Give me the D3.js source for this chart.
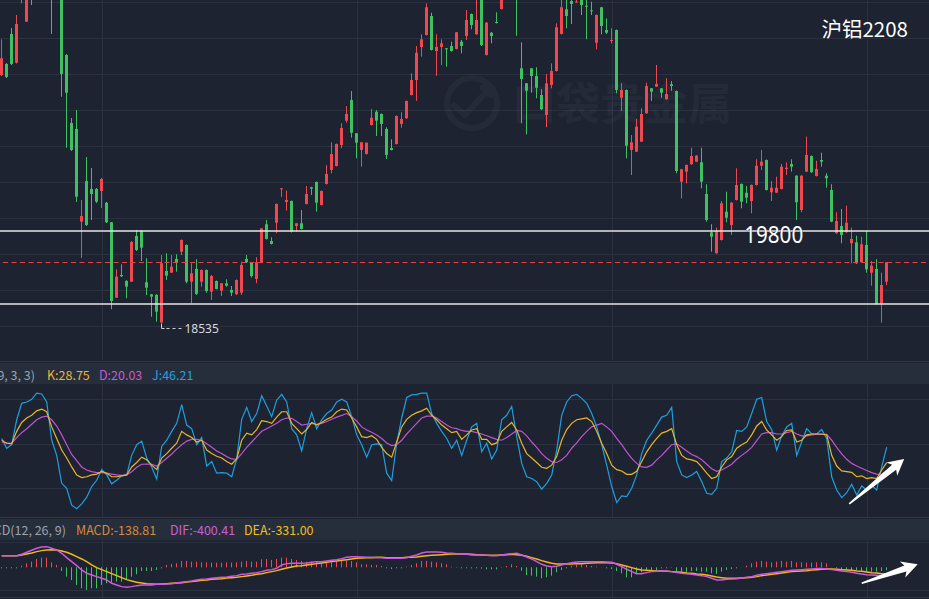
<!DOCTYPE html>
<html>
<head>
<meta charset="utf-8">
<title>沪铝2208</title>
<script src="https://cdnjs.cloudflare.com/ajax/libs/d3/7.8.5/d3.min.js"></script>
<style>
  html, body { margin: 0; padding: 0; background: #1d2330; }
  svg { display: block; }
</style>
</head>
<body>
<div id="chart"></div>
<script>
"use strict";

// ---- candles (daily OHLC, 沪铝2208) ----
var opens = [
  21922, 22072, 22480, 22089, 23010, 22647, 23350, 23146, 23486, 23282,
  23554, 23214, 23350, 22194, 21269, 21188, 19927, 20480, 20372, 20372,
  20344, 20185, 19919, 18893, 19202, 19120, 19111, 19732, 19800, 19103,
  18939, 18930, 18555, 19256, 19233, 19420, 19519, 19610, 19111, 19284,
  19111, 19270, 18975, 19120, 18989, 19089, 18998, 18939, 18961, 19420,
  19375, 19148, 19375, 19892, 19664, 19913, 20368, 20195, 20208, 19868,
  19905, 20168, 20395, 20467, 20154, 20440, 20630, 20684, 20970, 21300,
  21582, 21129, 20902, 20848, 21242, 21423, 21392, 21188, 20929, 20984,
  21256, 21333, 21650, 21854, 22303, 22466, 22724, 22248, 22303, 22285,
  22316, 22276, 22375, 22452, 22752, 22476, 23078, 22194, 22497, 22643,
  22820, 23078, 23350, 23214, 22013, 21809, 22013, 21908, 21650, 21378,
  21786, 21976, 22480, 22816, 22928, 22915, 23010, 22864, 22802, 22361,
  22843, 22534, 22389, 22534, 21613, 21718, 20902, 20879, 21015, 21401,
  21741, 21763, 21741, 21592, 21796, 21704, 20471, 20607, 20708, 20743,
  20735, 20304, 19783, 19497, 19678, 20063, 19882, 20222, 20440, 20321,
  20208, 20426, 20688, 20766, 20327, 20321, 20372, 20644, 20712, 20552,
  20086, 20607, 20820, 20548, 20766, 20552, 20358, 19769, 19868, 19783,
  19633, 19647, 19375, 19610, 19233, 19284, 18808, 19111
];
var highs = [
  22407, 22085, 22561, 22738, 23282, 23350, 23486, 23622, 23595, 23649,
  23622, 23486, 23418, 22208, 21337, 21446, 20222, 20807, 20657, 20385,
  20521, 20195, 19923, 19279, 19347, 19134, 19664, 19814, 19814, 19429,
  18944, 18944, 19474, 19497, 19474, 19484, 19685, 19617, 19361, 19416,
  19277, 19277, 19202, 19127, 19093, 19143, 19052, 19141, 19383, 19474,
  19379, 19443, 19841, 19950, 19715, 20174, 20385, 20349, 20215, 19909,
  20086, 20412, 20402, 20474, 20351, 20698, 21007, 20990, 21265, 21500,
  21704, 21133, 21011, 21004, 21460, 21446, 21398, 21211, 21047, 21371,
  21415, 21575, 21945, 22316, 22476, 22897, 22769, 22476, 22407, 22289,
  22375, 22507, 22398, 22806, 22758, 23010, 23146, 22643, 22507, 22775,
  23146, 23486, 23554, 23282, 22367, 21813, 22017, 22027, 21728, 21936,
  22081, 22625, 23010, 23010, 23010, 22983, 23078, 23010, 22919, 22745,
  22847, 22693, 22557, 22541, 21809, 21725, 21106, 21324, 21469, 21817,
  21745, 22058, 21745, 21877, 21840, 21711, 20644, 20705, 20933, 20831,
  20933, 20436, 19892, 19845, 20208, 20335, 20192, 20653, 20446, 20412,
  20433, 20776, 20902, 20773, 20480, 20539, 20712, 20735, 20776, 20559,
  20559, 21083, 20827, 20756, 20865, 20585, 20436, 20055, 20100, 20144,
  19845, 19736, 19723, 19800, 19392, 19416, 19233, 19379
];
var lows = [
  21908, 21881, 22058, 22078, 22897, 22643, 22874, 23010, 23214, 23214,
  22480, 23105, 21627, 20933, 20888, 20195, 19433, 19868, 19950, 20181,
  20113, 19909, 18736, 18889, 19175, 18885, 19107, 19528, 19392, 18930,
  18635, 18567, 18535, 19134, 19229, 19247, 19474, 19089, 18817, 18930,
  19043, 18961, 18862, 19005, 18916, 19043, 18916, 18933, 18930, 19365,
  19165, 19089, 19365, 19685, 19617, 19769, 20263, 20077, 19780, 19791,
  19821, 20161, 20290, 20063, 20147, 20433, 20585, 20678, 20925, 21273,
  21069, 20789, 20675, 20841, 21235, 21092, 21092, 20780, 20895, 20977,
  21205, 21326, 21643, 21572, 22171, 22459, 22255, 21912, 22058, 22035,
  22242, 22269, 22217, 22398, 22544, 22469, 22316, 22187, 22353, 22622,
  22813, 23010, 23078, 22456, 21265, 21116, 21681, 21605, 21446, 21211,
  21741, 21970, 22473, 22557, 22616, 22905, 22738, 22407, 22738, 22271,
  22476, 22480, 22353, 21673, 21432, 20789, 20562, 20875, 21011, 21394,
  21568, 21759, 21613, 21585, 21708, 20585, 20245, 20449, 20701, 20739,
  20381, 19927, 19519, 19490, 19671, 19919, 19746, 20215, 20109, 20177,
  20041, 20419, 20630, 20351, 20208, 20317, 20365, 20562, 20607, 19950,
  20055, 20603, 20592, 20541, 20675, 20389, 19920, 19762, 19633, 19776,
  19361, 19354, 19368, 19233, 19056, 18801, 18553, 19066
];
var closes = [
  22149, 21895, 22072, 22616, 23146, 23214, 23078, 23486, 23282, 23554,
  23078, 23418, 21936, 21681, 20902, 20267, 20004, 19882, 20304, 20199,
  20508, 19919, 18848, 19179, 19184, 19043, 19651, 19542, 19573, 19029,
  18907, 18703, 19361, 19192, 19315, 19375, 19678, 19111, 19225, 18944,
  19270, 18984, 19188, 19012, 19089, 19056, 18961, 19134, 19338, 19375,
  19188, 19375, 19837, 19692, 19624, 20168, 20381, 20222, 19791, 19905,
  19828, 20304, 20376, 20185, 20344, 20576, 20848, 20984, 21201, 21392,
  21137, 21001, 21007, 21001, 21341, 21300, 21256, 20834, 20902, 21364,
  21324, 21568, 21854, 22225, 22407, 22843, 22262, 22303, 22353, 22280,
  22248, 22503, 22316, 22670, 22602, 22670, 22330, 22633, 22452, 22629,
  23078, 23350, 23146, 23010, 21868, 21708, 21908, 21749, 21455, 21809,
  21976, 22571, 22843, 22724, 22888, 22922, 22874, 22856, 22792, 22738,
  22588, 22497, 22398, 21718, 21718, 20960, 21007, 21219, 21392, 21772,
  21695, 21800, 21681, 21664, 21772, 20616, 20640, 20698, 20820, 20825,
  20471, 19950, 19723, 19800, 20177, 19981, 20185, 20426, 20199, 20253,
  20426, 20688, 20743, 20358, 20389, 20389, 20675, 20661, 20675, 20191,
  20552, 20834, 20599, 20644, 20743, 20517, 19927, 19936, 19746, 19913,
  19692, 19361, 19620, 19279, 19328, 18808, 19066, 19375
];

// ---- KDJ(9, 3, 3) ----
var kVals = [
  54, 50.6, 50, 64, 74, 79, 82, 87, 89, 86,
  69, 56, 43, 34, 24, 15, 12, 13, 15, 16,
  19, 17, 13, 13, 14, 15, 24, 29, 35, 32,
  26, 21, 34, 39, 45, 50.6, 64, 60, 57, 52,
  54, 43, 39, 36, 34, 30, 27, 33, 54, 62,
  60, 66, 76, 75, 73, 80, 86, 86, 73, 67,
  61, 66, 74, 71, 74, 77.5, 80, 86, 89, 88,
  79, 69, 58, 57, 59, 55, 46, 39, 35, 52,
  69, 77.5, 82, 85, 87, 90, 82, 77, 71, 67,
  62.5, 64, 55, 60, 65.5, 67, 55, 55, 49, 51,
  64, 69, 74, 65.5, 50.6, 39, 34, 29, 23.6, 22.5,
  26, 35.6, 54, 66, 73, 77, 78, 79, 75, 64,
  50.6, 39, 26, 21, 19.5, 15.7, 15.7, 19, 30, 41,
  49, 56, 62, 64, 67, 49, 37, 33, 32, 30,
  24, 17, 11, 13, 24, 32, 35.6, 45, 49, 52,
  60, 70, 75, 65.5, 60, 54, 58, 65, 65.5, 52,
  54, 60, 61, 61, 61, 60, 37, 25, 19.5, 18.7,
  18, 13, 14, 11, 12, 11, 20.6, 28.75
];
var dVals = [
  52, 51, 50.6, 57, 62.5, 67, 72, 77, 80, 81,
  77, 70, 60, 49, 38, 31, 24, 20.6, 18.7, 17.6,
  17.6, 17, 16, 15, 14.6, 15, 18.7, 23.6, 27, 27.3,
  27, 25, 29, 33.7, 38.6, 44, 49, 53, 55, 55,
  54, 50, 46, 42, 39, 35.6, 33, 32.6, 39, 46,
  52, 58, 64, 67, 70, 73, 77, 79, 78.6, 75,
  71, 72, 73, 72, 73, 75, 77.5, 80, 82, 84,
  80.5, 75.6, 69, 65.5, 63, 60, 56, 51, 48, 49,
  54, 61, 67, 73, 79, 81, 81, 79, 75, 71,
  68, 67, 65, 64, 64, 62.5, 61, 59, 57, 55,
  54, 57, 61, 65, 64, 59, 52, 46, 39, 33.7,
  30, 29, 32, 37, 45, 51, 58, 64, 69, 71,
  73, 69, 64, 56, 49, 41, 33.7, 28, 24, 23.6,
  26, 32, 37, 43, 49, 50, 46, 42, 38, 35.6,
  32, 27, 22, 19, 20.6, 23.6, 27, 32.6, 37, 41,
  46, 53.5, 61, 62.5, 62.5, 61, 61, 62.5, 64, 61,
  59, 59, 60, 60.7, 60.7, 60.7, 54, 46, 38.6, 32.6,
  28, 25, 22.5, 20, 17.6, 16, 15.7, 20.03
];
var jVals = [
  56, 45, 49, 77, 95.5, 97, 100, 107, 106, 97,
  54, 37, 5.6, 0, -19, -23, -17.6, -10, 2, 9,
  21, 15, 5, 9, 14, 15, 37, 49, 53, 34,
  24, 10.5, 47, 54, 64, 73, 94, 71, 67, 49,
  57, 25, 30, 17, 17.6, 17, 13, 33, 77.5, 91,
  75, 84, 104, 92.5, 80.5, 99, 105.6, 97, 67, 60,
  42, 67, 85, 67, 77, 84, 88, 97, 100, 97,
  80.5, 60, 49, 35, 49, 50, 49, 17, 8.6, 50.6,
  79, 102, 105, 105.6, 107, 107, 84, 73, 64, 56,
  45, 54, 37, 54, 69, 73, 41, 50.6, 33, 43,
  77, 82, 92, 58, 28, 13, 11, 7.5, -1, 5.6,
  15, 43, 82, 97, 104, 105.6, 101, 95.5, 84, 69,
  49, 26, 2, -16, -8.6, -9.4, 0, 15, 39, 54,
  62, 71, 80, 82, 91, 30, 15, 12, 15, 19,
  7.5, -5.6, -6.7, 0, 30, 34, 41, 65, 64, 69,
  84, 100, 102, 75, 66, 43, 59, 69, 73, 37,
  52, 67, 61, 61, 66, 56, 13, -2, -10.5, -5,
  4.5, -7.5, 2.6, -2, 3.7, -2, 24, 46.21
];

// ---- MACD(12, 26, 9) ----
var difVals = [
  555, 555, 555, 555, 619, 714, 809, 905, 968, 984,
  905, 825, 667, 460, 270, 79, -127, -286, -365, -444,
  -524, -603, -762, -841, -920, -952, -920, -873, -841, -841,
  -841, -809, -809, -794, -778, -746, -714, -682, -651, -603,
  -571, -555, -524, -492, -476, -460, -428, -397, -333, -317,
  -286, -254, -206, -143, -111, -48, 111, 175, 190, 190,
  190, 206, 238, 270, 270, 302, 333, 365, 413, 476,
  508, 508, 492, 476, 476, 460, 460, 428, 428, 428,
  428, 460, 524, 587, 682, 730, 730, 730, 714, 682,
  667, 651, 635, 619, 587, 587, 587, 571, 555, 555,
  587, 619, 651, 667, 587, 492, 397, 270, 143, 63,
  32, 48, 111, 175, 222, 254, 270, 270, 270, 270,
  270, 254, 238, 143, 32, -95, -206, -302, -302, -254,
  -206, -190, -175, -175, -206, -254, -286, -302, -333, -365,
  -397, -444, -524, -603, -603, -571, -555, -540, -508, -476,
  -444, -381, -333, -302, -270, -238, -206, -175, -143, -127,
  -111, -95, -79, -63, -63, -79, -111, -143, -175, -206,
  -238, -286, -317, -349, -365, -381, -397, -400.41
];
var deaVals = [
  555, 555, 555, 555, 587, 635, 682, 746, 794, 825,
  841, 825, 778, 714, 619, 508, 397, 270, 111, -16,
  -111, -206, -302, -397, -492, -587, -651, -714, -746, -778,
  -794, -809, -794, -778, -762, -746, -730, -698, -682, -651,
  -619, -603, -571, -555, -540, -508, -492, -476, -444, -413,
  -381, -333, -302, -254, -206, -159, -95, -32, 16, 63,
  79, 111, 143, 175, 206, 238, 270, 302, 333, 365,
  397, 428, 444, 460, 460, 476, 476, 460, 460, 460,
  460, 476, 476, 492, 524, 555, 571, 587, 603, 619,
  635, 635, 635, 635, 619, 603, 587, 571, 571, 571,
  587, 603, 619, 603, 571, 524, 460, 397, 317, 254,
  190, 159, 159, 159, 159, 175, 175, 190, 206, 222,
  222, 222, 206, 175, 111, 48, -16, -79, -127, -143,
  -159, -175, -175, -190, -206, -222, -238, -270, -286, -317,
  -333, -365, -413, -460, -492, -524, -524, -524, -508, -492,
  -476, -444, -397, -365, -333, -302, -270, -238, -206, -190,
  -175, -159, -127, -111, -95, -79, -79, -95, -111, -127,
  -143, -175, -190, -222, -254, -270, -302, -331.00
];
var macdVals = [
  -48, -48, -48, -48, 79, 190, 270, 397, 460, 460,
  238, 111, -175, -444, -603, -841, -1000, -1079, -1000, -1000,
  -841, -762, -730, -682, -682, -603, -444, -333, -175, -175,
  -175, -127, -48, 111, 159, 190, 302, 302, 270, 270,
  238, 238, 222, 222, 222, 238, 222, 238, 270, 302,
  270, 270, 381, 397, 349, 397, 460, 460, 397, 349,
  302, 270, 270, 270, 238, 222, 238, 302, 317, 317,
  302, 238, 143, 143, 111, 111, 63, -48, -79, -48,
  -48, 32, 111, 190, 302, 302, 270, 238, 190, 143,
  32, -16, -48, -48, -48, -48, -63, -95, -95, -95,
  -16, 63, 143, 63, -159, -365, -397, -444, -524, -476,
  -397, -238, -127, -48, 63, 111, 143, 111, 63, 32,
  -8, -48, -79, -175, -286, -476, -476, -333, -238, -175,
  -175, -127, -48, -48, -16, -206, -206, -238, -175, -175,
  -206, -206, -286, -317, -206, -127, -79, -48, -8, 79,
  190, 270, 302, 270, 238, 270, 302, 270, 302, 238,
  238, 222, 222, 238, 238, 190, -5, -48, -95, -127,
  -127, -127, -175, -206, -206, -206, -175, -138.81
];

// grid / marks
var priceGrid = [18510, 19000, 19490, 19980, 20470, 20960, 21450, 21940, 22430, 22920];
var kdjGrid = [100, 50, 0];
var macdGrid = [1190, -1080];
var monthIdx = [20, 71, 122, 173];
var levelLines = [19800, 18808];
var levelLabel = { idx: 154.4, price: 19800, text: "19800" };
var lowMark = { idx: 32, price: 18535 };
// annotation arrows [index, value] -> [index, value]
var kdjArrow = [[169.5, -17.6], [180.5, 33]];
var macdArrow = [[172, -762], [183.2, 143]];

var W = 929, H = 599;
var RED = "#f2474e", GREEN = "#3ec15f";
var GRID = "#2a3141", HEAD = "#262e3b";
var CJK = "'Noto Sans CJK SC', 'Noto Sans', sans-serif";

var svg = d3.select("#chart").append("svg")
  .attr("width", W).attr("height", H);

svg.append("rect").attr("width", W).attr("height", H).attr("fill", "#1d2330");

var x = d3.scaleLinear().domain([0, 177]).range([1.7, 886.7]);
var yPrice = d3.scaleLinear().domain([19800, 22942]).range([231, 0]);
var yKdj = d3.scaleLinear().domain([0, 100]).range([488.3, 399.3]);
var yMacd = d3.scaleLinear().domain([0, 1000]).range([567.3, 546.3]);

var idx = d3.range(closes.length);

function crisp(v) { return Math.round(v) + 0.5; }

// panels: main 0-360, kdj 384-517, macd 540-597
var panels = [[0, 360], [384, 517], [540, 597]];

// panel headers / separators
[[361, 384], [517, 540]].forEach(function (h) {
  svg.append("line").attr("x1", 0).attr("x2", W)
    .attr("y1", h[0] + 0.5).attr("y2", h[0] + 0.5).attr("stroke", "#2e3646");
  svg.append("rect").attr("x", 0).attr("y", h[0] + 2).attr("width", W)
    .attr("height", h[1] - h[0] - 2).attr("fill", HEAD);
});
svg.append("line").attr("x1", 0).attr("x2", W)
  .attr("y1", 597.5).attr("y2", 597.5).attr("stroke", "#2e3646");

// horizontal grid
var grid = svg.append("g").attr("stroke", GRID).attr("stroke-width", 1);
priceGrid.forEach(function (p) {
  grid.append("line").attr("x1", 0).attr("x2", W)
    .attr("y1", crisp(yPrice(p))).attr("y2", crisp(yPrice(p)));
});
kdjGrid.forEach(function (v) {
  grid.append("line").attr("x1", 0).attr("x2", W)
    .attr("y1", crisp(yKdj(v))).attr("y2", crisp(yKdj(v)));
});
macdGrid.forEach(function (v) {
  grid.append("line").attr("x1", 0).attr("x2", W)
    .attr("y1", crisp(yMacd(v))).attr("y2", crisp(yMacd(v)));
});
// vertical grid (month boundaries)
monthIdx.forEach(function (i) {
  panels.forEach(function (p) {
    grid.append("line").attr("x1", crisp(x(i))).attr("x2", crisp(x(i)))
      .attr("y1", p[0]).attr("y2", p[1]);
  });
});

// watermark
var wm = svg.append("g").attr("opacity", 0.03);
wm.append("circle").attr("cx", 472).attr("cy", 103).attr("r", 25)
  .attr("fill", "none").attr("stroke", "#fff").attr("stroke-width", 6);
wm.append("path").attr("d", "M452,104 L465,115 L489,89 M480,88 L491,87 L490,98")
  .attr("fill", "none").attr("stroke", "#fff").attr("stroke-width", 6)
  .attr("stroke-linejoin", "round");
wm.append("text").attr("x", 512).attr("y", 120).attr("fill", "#fff")
  .attr("font-family", CJK).attr("font-size", 44).attr("font-weight", "bold")
  .text("口袋贵金属");

// candles
var defs = svg.append("defs");
defs.append("clipPath").attr("id", "clipMain").append("rect")
  .attr("x", 0).attr("y", 0).attr("width", W).attr("height", 360);
defs.append("clipPath").attr("id", "clipKdj").append("rect")
  .attr("x", 0).attr("y", 384).attr("width", W).attr("height", 133);
defs.append("clipPath").attr("id", "clipMacd").append("rect")
  .attr("x", 0).attr("y", 540).attr("width", W).attr("height", 57);

var candles = svg.append("g").attr("clip-path", "url(#clipMain)")
  .selectAll("g").data(idx).enter().append("g")
  .attr("fill", function (i) { return closes[i] >= opens[i] ? RED : GREEN; });

candles.append("rect")
  .attr("x", function (i) { return Math.floor(x(i)); })
  .attr("y", function (i) { return yPrice(highs[i]); })
  .attr("width", 1)
  .attr("height", function (i) { return yPrice(lows[i]) - yPrice(highs[i]); });

candles.append("rect")
  .attr("x", function (i) { return Math.floor(x(i)) - 1; })
  .attr("y", function (i) { return yPrice(Math.max(opens[i], closes[i])); })
  .attr("width", 3)
  .attr("height", function (i) {
    return Math.max(1, Math.abs(yPrice(opens[i]) - yPrice(closes[i])));
  });

// support / resistance lines
levelLines.forEach(function (p) {
  svg.append("line").attr("x1", 0).attr("x2", W)
    .attr("y1", yPrice(p)).attr("y2", yPrice(p))
    .attr("stroke", "#e6e6e6").attr("stroke-width", 1.4);
});
// last price line
var last = closes[closes.length - 1];
svg.append("line").attr("x1", 3).attr("x2", W)
  .attr("y1", crisp(yPrice(last))).attr("y2", crisp(yPrice(last)))
  .attr("stroke", "#e8403f").attr("stroke-dasharray", "5,3.5");

svg.append("text").attr("x", x(levelLabel.idx) - 29.5).attr("y", yPrice(levelLabel.price) + 12)
  .attr("fill", "#fff").attr("stroke", "#1d2330").attr("stroke-width", 0.6)
  .attr("paint-order", "stroke")
  .attr("font-family", "'Noto Sans', sans-serif").attr("font-size", 23.5)
  .attr("textLength", 59).attr("lengthAdjust", "spacingAndGlyphs")
  .text(levelLabel.text);

// lowest point marker
var lx = Math.floor(x(lowMark.idx)) + 0.5, ly = yPrice(lowMark.price);
svg.append("path").attr("d", "M" + lx + "," + ly + " V" + (ly + 4.5) + " H" + (lx + 3))
  .attr("fill", "none").attr("stroke", "#cfd3d8");
svg.append("line").attr("x1", lx + 5).attr("x2", lx + 22)
  .attr("y1", ly + 4.5).attr("y2", ly + 4.5)
  .attr("stroke", "#cfd3d8").attr("stroke-dasharray", "3,3");
svg.append("text").attr("x", lx + 23).attr("y", ly + 9)
  .attr("fill", "#d6d9de").attr("font-family", "'Noto Sans', sans-serif")
  .attr("font-size", 12).text(lowMark.price);

svg.append("text").attr("x", 908).attr("y", 37).attr("text-anchor", "end")
  .attr("fill", "#fff").attr("font-family", CJK).attr("font-size", 20.5)
  .text("沪铝2208");

// KDJ lines
var kdjG = svg.append("g").attr("clip-path", "url(#clipKdj)")
  .attr("fill", "none").attr("stroke-width", 1.2);
[[jVals, "#1e9fe0"], [dVals, "#c153d3"], [kVals, "#e9b52c"]].forEach(function (s) {
  var vals = s[0];
  kdjG.append("path")
    .attr("d", d3.line().x(function (i) { return x(i); })
      .y(function (i) { return yKdj(vals[i]); })(idx))
    .attr("stroke", s[1]);
});

// MACD histogram + lines
var macdG = svg.append("g").attr("clip-path", "url(#clipMacd)");
macdG.selectAll("rect").data(idx).enter().append("rect")
  .attr("x", function (i) { return Math.floor(x(i)); })
  .attr("width", 1)
  .attr("y", function (i) { return Math.min(yMacd(0), yMacd(macdVals[i])); })
  .attr("height", function (i) { return Math.abs(yMacd(macdVals[i]) - yMacd(0)); })
  .attr("fill", function (i) { return macdVals[i] >= 0 ? RED : GREEN; });
[[deaVals, "#f0b81e"], [difVals, "#d257e0"]].forEach(function (s) {
  var vals = s[0];
  macdG.append("path")
    .attr("d", d3.line().x(function (i) { return x(i); })
      .y(function (i) { return yMacd(vals[i]); })(idx))
    .attr("fill", "none").attr("stroke", s[1]).attr("stroke-width", 1.5);
});

// header texts (the indicator names run off the left edge, as in the source)
function header(y, items) {
  items.forEach(function (t) {
    svg.append("text").attr("x", t[0]).attr("y", y)
      .attr("text-anchor", t[3] || "start")
      .attr("fill", t[2]).attr("font-family", CJK).attr("font-size", 12.5)
      .text(t[1]);
  });
}
header(379.5, [
  [35, "KDJ(9, 3, 3)", "#9aa2ae", "end"],
  [47, "K:" + kVals[kVals.length - 1].toFixed(2), "#f0b43c"],
  [99, "D:" + dVals[dVals.length - 1].toFixed(2), "#c659d6"],
  [152, "J:" + jVals[jVals.length - 1].toFixed(2), "#1ea1e6"]
]);
header(534.5, [
  [66, "MACD(12, 26, 9)", "#9aa2ae", "end"],
  [76, "MACD:" + macdVals[macdVals.length - 1].toFixed(2), "#d98a3a"],
  [170, "DIF:" + difVals[difVals.length - 1].toFixed(2), "#cc5fd8"],
  [244, "DEA:" + deaVals[deaVals.length - 1].toFixed(2), "#f0be1e"]
]);

// white trend arrows
function arrow(a, yScale) {
  var x1 = x(a[0][0]), y1 = yScale(a[0][1]), x2 = x(a[1][0]), y2 = yScale(a[1][1]);
  var dx = x2 - x1, dy = y2 - y1, len = Math.sqrt(dx * dx + dy * dy);
  var ux = dx / len, uy = dy / len, nx = -uy, ny = ux;
  function p(s, w) { return [x1 + ux * s + nx * w, y1 + uy * s + ny * w]; }
  var pts = [p(0, 0.8), p(len - 13, 3.2), p(len - 16, 8.5), p(len, 0),
             p(len - 16, -8.5), p(len - 13, -3.2), p(0, -0.8)];
  svg.append("polygon").attr("points", pts.map(function (q) { return q.join(","); }).join(" "))
    .attr("fill", "#fff");
}
arrow(kdjArrow, yKdj);
arrow(macdArrow, yMacd);
</script>
</body>
</html>
